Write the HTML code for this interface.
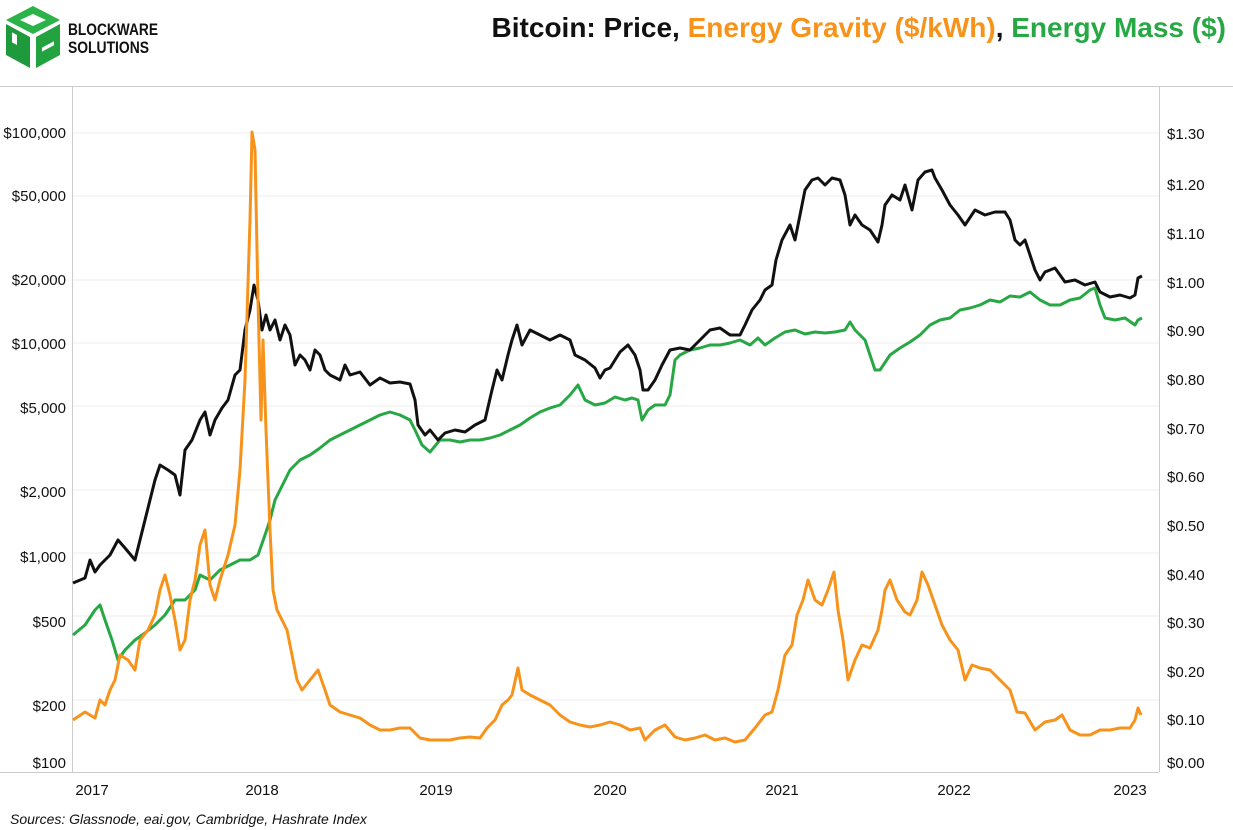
<!DOCTYPE html>
<html><head><meta charset="utf-8"><style>
body{margin:0;background:#fff;}
svg{display:block;font-family:"Liberation Sans",sans-serif;}
</style></head><body>
<svg width="1233" height="830" viewBox="0 0 1233 830" xmlns="http://www.w3.org/2000/svg">
<rect width="1233" height="830" fill="#fff"/>
<!-- logo -->
<g fill="#27a844">
<polygon points="33,6 60,20 33,34 6,20" fill="#2bb34a"/>
<polygon points="6,24 30,37 30,68 6,55" fill="#1e9a3c"/>
<polygon points="36,37 60,24 60,55 36,68" fill="#23a240"/>
<polygon points="33,14 46,20 33,26 20,20" fill="#fff"/>
<rect x="12" y="38" width="5" height="10" fill="#fff" transform="skewY(28) translate(0,-12)"/>
<rect x="42" y="44" width="12" height="4" fill="#fff" transform="skewY(-28) translate(0,26)"/>
</g>
<text x="68" y="35" font-size="17" font-weight="bold" fill="#111" textLength="90" lengthAdjust="spacingAndGlyphs">BLOCKWARE</text>
<text x="68" y="53" font-size="17" font-weight="bold" fill="#111" textLength="81" lengthAdjust="spacingAndGlyphs">SOLUTIONS</text>
<!-- title -->
<text x="1226" y="37" font-size="28" font-weight="bold" text-anchor="end"><tspan fill="#111">Bitcoin: Price, </tspan><tspan fill="#f7931a">Energy Gravity ($/kWh)</tspan><tspan fill="#111">, </tspan><tspan fill="#27a844">Energy Mass ($)</tspan></text>
<line x1="0" y1="86.5" x2="1233" y2="86.5" stroke="#ccc"/>
<!-- grid -->
<g stroke="#eee" stroke-width="1">
<line x1="72" x2="1159" y1="133" y2="133"/><line x1="72" x2="1159" y1="196" y2="196"/><line x1="72" x2="1159" y1="280" y2="280"/><line x1="72" x2="1159" y1="343" y2="343"/><line x1="72" x2="1159" y1="406" y2="406"/><line x1="72" x2="1159" y1="490" y2="490"/><line x1="72" x2="1159" y1="553" y2="553"/><line x1="72" x2="1159" y1="616" y2="616"/><line x1="72" x2="1159" y1="700" y2="700"/>
</g>
<g stroke="#ccc"><line x1="72.5" y1="86" x2="72.5" y2="772"/><line x1="1159.5" y1="86" x2="1159.5" y2="772"/><line x1="0" y1="772.5" x2="1159" y2="772.5"/></g>
<g font-size="15" fill="#111" text-anchor="end">
<text x="66" y="138">$100,000</text><text x="66" y="201">$50,000</text><text x="66" y="285">$20,000</text><text x="66" y="349">$10,000</text><text x="66" y="413">$5,000</text><text x="66" y="497">$2,000</text><text x="66" y="562">$1,000</text><text x="66" y="627">$500</text><text x="66" y="711">$200</text><text x="66" y="768">$100</text>
</g>
<g font-size="15" fill="#111">
<text x="1167" y="139">$1.30</text><text x="1167" y="190">$1.20</text><text x="1167" y="239">$1.10</text><text x="1167" y="288">$1.00</text><text x="1167" y="336">$0.90</text><text x="1167" y="385">$0.80</text><text x="1167" y="434">$0.70</text><text x="1167" y="482">$0.60</text><text x="1167" y="531">$0.50</text><text x="1167" y="580">$0.40</text><text x="1167" y="628">$0.30</text><text x="1167" y="677">$0.20</text><text x="1167" y="725">$0.10</text><text x="1167" y="768">$0.00</text>
</g>
<g font-size="15" fill="#111" text-anchor="middle">
<text x="92" y="795">2017</text><text x="262" y="795">2018</text><text x="436" y="795">2019</text><text x="610" y="795">2020</text><text x="782" y="795">2021</text><text x="954" y="795">2022</text><text x="1130" y="795">2023</text>
</g>
<text x="10" y="824" font-size="14" font-style="italic" fill="#111">Sources: Glassnode, eai.gov, Cambridge, Hashrate Index</text>
<g fill="none" stroke-width="3" stroke-linejoin="round">
<polyline stroke="#27a844" points="73,635 85,625 95,610 100,605 105,620 112,640 118,660 125,650 135,640 145,633 155,625 165,615 175,600 185,600 195,590 200,575 210,580 220,570 230,565 240,560 250,560 258,555 265,535 270,520 275,500 280,490 290,470 300,460 310,455 320,448 330,440 340,435 350,430 360,425 370,420 380,415 390,412 400,415 410,420 415,430 422,445 430,452 440,440 450,440 460,442 470,440 480,440 490,438 500,435 510,430 520,425 530,418 540,412 550,408 560,405 565,400 570,395 578,385 585,400 595,405 605,403 615,397 625,400 632,398 638,400 642,420 648,410 655,405 665,405 670,395 675,360 680,355 690,350 700,348 710,345 720,345 730,343 740,340 750,345 758,338 765,345 775,338 785,332 795,330 805,334 815,332 825,333 835,332 845,330 850,322 855,330 865,340 870,355 875,370 880,370 890,355 900,348 910,342 920,335 930,325 940,320 950,318 960,310 970,308 980,305 990,300 1000,302 1010,296 1020,297 1030,292 1040,300 1050,305 1060,305 1070,300 1080,298 1090,290 1095,288 1100,305 1105,318 1115,320 1125,318 1135,325 1138,320 1142,318"/>
<polyline stroke="#111" points="73,583 85,578 90,560 95,572 100,565 110,555 118,540 125,548 135,560 145,520 155,480 160,465 168,470 175,475 180,495 185,450 192,440 200,420 205,412 210,435 215,420 222,408 228,400 235,375 240,370 245,330 250,310 254,285 258,300 262,330 266,315 270,330 275,320 280,340 285,325 290,335 295,365 300,355 305,360 310,370 315,350 320,355 325,370 330,375 340,380 345,365 350,375 360,372 370,385 380,378 390,383 400,382 410,384 415,400 418,425 425,435 430,430 438,440 445,433 455,430 465,432 475,425 485,420 492,390 497,370 502,380 508,355 512,340 517,325 522,345 530,330 540,335 550,340 560,335 570,340 575,355 585,360 595,368 600,378 605,370 610,368 620,352 628,345 635,355 640,370 643,390 648,390 655,380 662,365 670,350 680,348 690,350 700,340 710,330 720,328 730,335 740,335 745,325 752,310 760,300 765,290 772,285 776,260 782,240 790,225 795,240 800,215 805,190 812,180 818,178 825,185 832,178 840,180 845,195 850,225 855,215 862,225 870,230 878,242 882,225 885,205 892,195 900,200 905,185 912,210 918,180 925,172 932,170 935,178 942,190 950,205 958,215 965,225 975,210 985,215 995,212 1005,212 1010,220 1015,240 1020,245 1025,240 1030,255 1035,270 1040,280 1045,272 1055,268 1060,275 1065,282 1075,280 1085,285 1095,282 1100,292 1110,297 1120,295 1130,298 1135,295 1138,278 1142,276"/>
<polyline stroke="#f7931a" points="73,720 85,712 95,718 100,700 105,705 110,690 115,680 120,655 128,660 135,670 140,640 148,630 155,615 160,590 165,575 170,595 175,620 180,650 185,640 190,600 195,580 200,545 205,530 210,585 215,600 220,580 228,555 235,525 240,470 245,380 250,220 252,132 255,150 258,300 261,420 263,340 266,430 270,530 273,590 277,610 282,620 287,630 292,655 297,680 302,690 310,680 318,670 325,690 330,705 340,712 350,715 360,718 370,725 380,730 390,730 400,728 410,728 420,738 430,740 440,740 450,740 460,738 470,737 480,738 487,728 495,720 502,705 508,700 512,695 518,668 522,690 530,695 540,700 550,705 560,715 570,722 580,725 590,727 600,725 610,722 620,725 630,730 640,728 645,740 655,730 665,725 675,737 685,740 695,738 705,735 715,740 725,738 735,742 745,740 755,728 765,715 772,712 778,690 785,655 792,645 797,615 803,600 808,580 815,600 822,605 828,590 834,572 838,610 843,640 848,680 855,660 862,645 870,648 878,630 882,610 885,590 890,580 897,600 905,612 910,615 917,600 922,572 928,585 935,605 942,625 950,640 958,650 965,680 972,665 980,668 990,670 1000,680 1010,690 1017,712 1025,713 1035,730 1045,722 1055,720 1062,715 1070,730 1080,735 1090,735 1100,730 1110,730 1120,728 1130,728 1135,720 1138,708 1141,715"/>
</g>
</svg>
</body></html>
